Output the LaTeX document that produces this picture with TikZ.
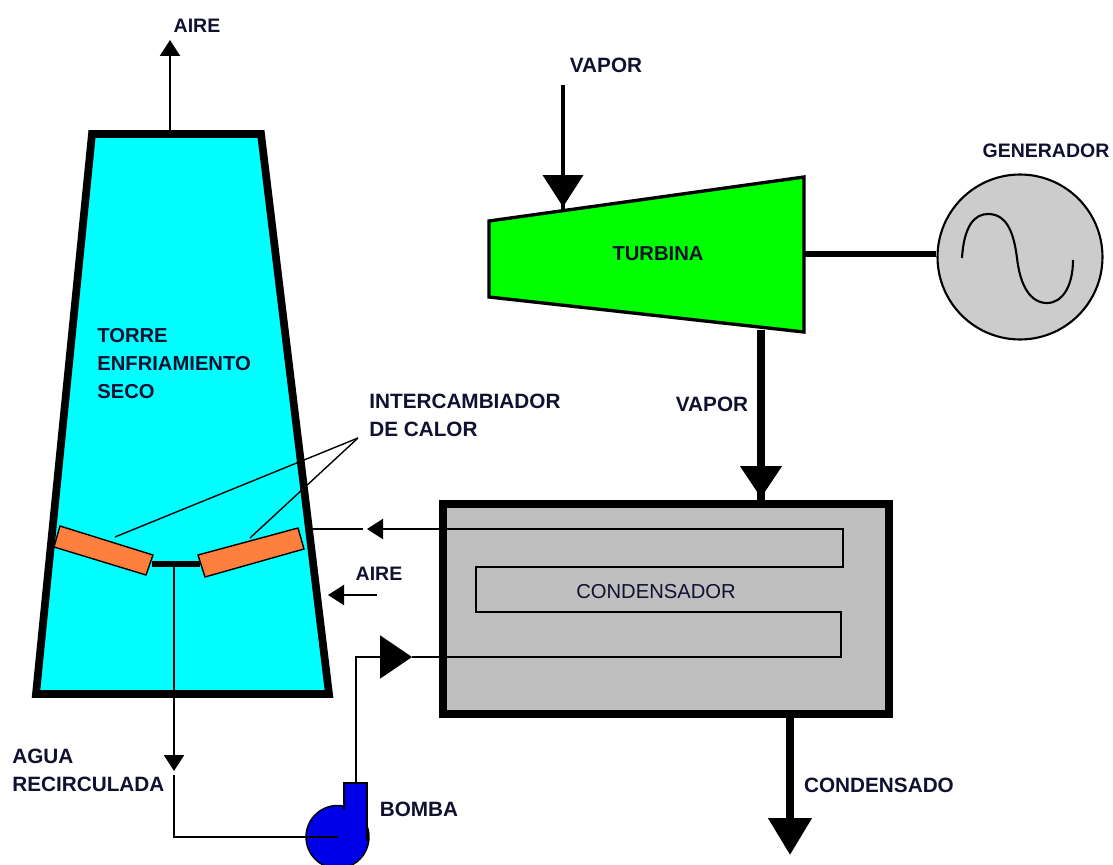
\documentclass[tikz,border=0pt]{standalone}
\usepackage{fontspec}
\setmainfont{Liberation Sans}
\usetikzlibrary{arrows.meta}
\definecolor{tower}{HTML}{00FFFF}
\definecolor{exch}{HTML}{FF7F3F}
\definecolor{turb}{HTML}{00FF00}
\definecolor{pump}{HTML}{0000E8}
\definecolor{label}{HTML}{101030}
\begin{document}
\begin{tikzpicture}[
    x=0.02cm, y=-0.02cm,
    line join=miter,
    txt/.style={font=\fontsize{11.8pt}{15.9pt}\selectfont\bfseries, text=label, inner sep=0pt},
    narrowtxt/.style={font=\fontsize{11.1pt}{15.9pt}\selectfont\bfseries, text=label, inner sep=0pt},
    inner/.style={font=\fontsize{11.5pt}{15.9pt}\selectfont\bfseries, text=label, inner sep=0pt},
    pipe/.style={line width=1.2pt},
    thinline/.style={line width=0.8pt},
    heavy/.style={line width=4.4pt},
    bigtip/.style={-{Triangle[length=0.64cm,width=0.8cm]}},
    lowtip/.style={-{Triangle[length=0.74cm,width=0.84cm]}},
    midtip/.style={-{Triangle[length=0.64cm,width=0.86cm]}},
    smalltip/.style={-{Triangle[length=0.32cm,width=0.4cm]}},
]
  \useasboundingbox (0,0) rectangle (1113,865);

  % torre
  \draw[fill=tower, line width=4.4pt] (92,134) -- (261,134) -- (329,694) -- (36,694) -- cycle;
  \coordinate (towertop) at (170,134);
  \coordinate (airetip) at (170,40);
  \draw[pipe, smalltip] (towertop) -- (airetip);
  \node[narrowtxt] (aireup) at (197,26) {AIRE};
  \node[inner, align=left, anchor=north west] (torre) at (97,328) {TORRE\\ENFRIAMIENTO\\SECO};

  % intercambiador
  \draw[thinline, fill=exch] (60,526) -- (153,555) -- (146,575) -- (54,547) -- cycle;
  \draw[thinline, fill=exch] (198,555) -- (298,528) -- (304,549) -- (205,577) -- cycle;
  \coordinate (barleft) at (152,564);
  \coordinate (barright) at (200,564);
  \coordinate (drain) at (174,564);
  \draw[line width=3.2pt] (barleft) -- (barright);
  \node[txt, align=left, anchor=north west] (inter) at (369,394) {INTERCAMBIADOR\\DE CALOR};
  \coordinate (leader) at (358,438);
  \draw[thinline] (leader) -- (115,537);
  \draw[thinline] (leader) -- (250,538);

  % condensador
  \node[draw, fill=black!25, line width=4.2pt, minimum width=8.92cm, minimum height=4.2cm] (cond) at (666,609) {};
  \draw[pipe] (383,529) -- (843,529) -- (843,567) -- (476,567) -- (476,612) -- (841,612) -- (841,657) -- (412,657);
  \node[inner, font=\fontsize{11.5pt}{13pt}\selectfont] (condtxt) at (656,592) {CONDENSADOR};

  % retorno
  \coordinate (retin) at (383,529);
  \coordinate (rettip) at (367,529);
  \coordinate (retgap) at (363,529);
  \coordinate (retend) at (312,529);
  \draw[pipe, smalltip] (retin) -- (rettip);
  \draw[pipe] (retgap) -- (retend);

  % aire de entrada
  \coordinate (airstart) at (377,595);
  \coordinate (airend) at (328,595);
  \draw[pipe, smalltip] (airstart) -- (airend);
  \node[narrowtxt] (airein) at (379,574) {AIRE};

  % bomba
  \node[circle, draw, fill=pump, thinline, minimum size=1.26cm, inner sep=0pt] (bomba) at (337.5,837) {};
  \draw[thinline, fill=pump] (344,783) rectangle (367,840);
  \fill[pump] (345,795) rectangle (366,850);
  \fill[pump] (330,810) rectangle (350,850);
  \coordinate (pumpout) at (356,783);
  \coordinate (pumptip) at (412,657);
  \draw[pipe, midtip] (pumpout) |- (pumptip);
  \node[txt] (bombatxt) at (419,809) {BOMBA};

  % agua
  \coordinate (watertip) at (174,771);
  \coordinate (waterback) at (174,775);
  \draw[pipe, smalltip] (drain) -- (watertip);
  \draw[pipe] (waterback) |- (bomba.center);
  \node[txt, align=left, anchor=north west] (agua) at (12,749) {AGUA\\RECIRCULADA};

  % turbina
  \draw[fill=turb, line width=1.9pt] (489,221) -- (804,177) -- (804,332) -- (489,297) -- cycle;
  \node[inner] (turbina) at (658,254) {TURBINA};
  \coordinate (vaporstart) at (563,85);
  \coordinate (vaportip) at (563,207);
  \coordinate (vaporend) at (563,212);
  \draw[line width=2.2pt] (vaporstart) -- (vaporend);
  \draw[line width=2.2pt, bigtip] (vaporstart) -- (vaportip);
  \node[txt] (vaporup) at (606,65) {VAPOR};
  \coordinate (turbout) at (761,330);
  \draw[heavy] (turbout) -- (turbout |- cond.north);
  \draw[heavy, bigtip] (turbout) -- (761,498);
  \node[txt] (vapordown) at (712,404) {VAPOR};

  % generador
  \node[circle, draw, fill=black!20, pipe, minimum size=3.3cm, inner sep=0pt] (gen) at (1020,257) {};
  \coordinate (shaft) at (804,254);
  \draw[line width=3.2pt] (shaft) -- (gen.west |- shaft);
  \draw[pipe] (962,258) .. controls (964,225) and (975,214) .. (988,214)
    .. controls (1008,214) and (1014,235) .. (1017,258)
    .. controls (1020,285) and (1030,303) .. (1047,303)
    .. controls (1063,303) and (1073,285) .. (1073,260);
  \node[narrowtxt] (gentxt) at (1046,151) {GENERADOR};

  % condensado
  \coordinate (condout) at (790,714);
  \draw[heavy, lowtip] (condout) -- (790,855);
  \node[txt] (condensado) at (879,785) {CONDENSADO};

\end{tikzpicture}
\end{document}
